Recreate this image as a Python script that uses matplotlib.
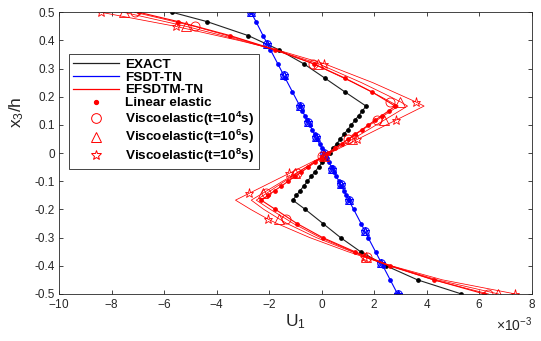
import numpy as np
import matplotlib
matplotlib.use('Agg')
import matplotlib.pyplot as plt
from matplotlib.lines import Line2D
from matplotlib.ticker import FuncFormatter, ScalarFormatter

plt.rcParams['font.family'] = ['Liberation Sans', 'DejaVu Sans']
plt.rcParams['mathtext.default'] = 'regular'
plt.rcParams['axes.unicode_minus'] = False

# thickness coordinate x3/h (three layers)
z = [0.5, 0.467, 0.417, 0.367, 0.317, 0.267, 0.217, 0.167,
     0.15, 0.133, 0.117, 0.1, 0.083, 0.067, 0.05, 0.033, 0.017, 0.0,
     -0.017, -0.033, -0.05, -0.067, -0.083, -0.1, -0.117, -0.133, -0.15, -0.167,
     -0.2, -0.25, -0.3, -0.35, -0.4, -0.45, -0.5]

# U1 values (x 1e-3)
u_exact = [-5.69, -4.37, -2.79, -1.63, -0.68, 0.11, 0.89, 1.69,
           1.55, 1.41, 1.27, 1.13, 0.99, 0.85, 0.71, 0.57, 0.43, 0.30,
           0.16, 0.02, -0.12, -0.26, -0.40, -0.54, -0.68, -0.82, -0.96, -1.10,
           -0.62, 0.05, 0.72, 1.48, 2.45, 3.65, 5.32]
u_fsdt = [-2.69, -2.50, -2.23, -1.95, -1.67, -1.39, -1.11, -0.83,
          -0.74, -0.64, -0.55, -0.46, -0.36, -0.27, -0.18, -0.08, 0.01, 0.10,
          0.19, 0.28, 0.38, 0.47, 0.56, 0.66, 0.75, 0.84, 0.94, 1.03,
          1.22, 1.50, 1.77, 2.05, 2.33, 2.61, 2.89]
u_efsdtm = [-6.96, -5.47, -3.48, -1.76, -0.31, 0.87, 1.92, 2.80,
            2.55, 2.29, 2.04, 1.78, 1.53, 1.27, 1.02, 0.76, 0.51, 0.25,
            0.00, -0.26, -0.51, -0.77, -1.02, -1.28, -1.53, -1.79, -2.04, -2.30,
            -1.76, -0.94, 0.04, 1.26, 2.62, 4.28, 6.19]

# FSDT-TN viscoelastic markers (all three times overlap)
z_fsdt_mk = [0.5, 0.389, 0.278, 0.167, 0.111, 0.056, 0.0, -0.056, -0.111, -0.167, -0.278, -0.389, -0.5]
u_fsdt_mk = [-2.69, -2.07, -1.45, -0.83, -0.52, -0.21, 0.10, 0.41, 0.72, 1.03, 1.65, 2.27, 2.89]

# EFSDTM-TN viscoelastic curves
z_ve = [0.5, 0.45, 0.4, 0.367, 0.318, 0.25, 0.2, 0.182, 0.167,
        -0.167, -0.2, -0.234, -0.25, -0.3, -0.35, -0.37, -0.4, -0.45, -0.5]
u_ve4 = [-7.12, -4.84, -2.94, -1.82, -0.33, 1.21, 2.26, 2.62, 2.92,
         -2.49, -1.95, -1.35, -1.08, -0.05, 1.20, 1.69, 2.55, 4.25, 6.35]
u_ve6 = [-7.54, -5.16, -3.06, -1.81, -0.14, 1.52, 2.62, 3.00, 3.27,
         -2.68, -2.20, -1.61, -1.32, -0.20, 1.15, 1.70, 2.60, 4.40, 6.73]
u_ve8 = [-8.40, -5.56, -3.16, -1.71, 0.08, 1.95, 3.15, 3.58, 3.90,
         -3.28, -2.70, -2.05, -1.70, -0.45, 1.00, 1.65, 2.65, 4.60, 7.37]

z_mk = [0.5, 0.45, 0.318, 0.182, 0.117, 0.049, -0.012, -0.072, -0.143, -0.234, -0.37, -0.5]
mk_ve4 = [-7.12, -4.84, -0.33, 2.62, 2.11, 1.00, 0.02, -0.95, -2.10, -1.35, 1.72, 6.35]
mk_ve6 = [-7.54, -5.16, -0.14, 3.00, 2.38, 1.17, 0.08, -1.00, -2.25, -1.61, 1.70, 6.73]
mk_ve8 = [-8.40, -5.56, 0.08, 3.58, 2.82, 1.36, 0.05, -1.24, -2.76, -2.05, 1.62, 7.37]

sc = 1e-3
fig = plt.figure(figsize=(5.41, 3.41), dpi=100)
ax = fig.add_axes([0.109, 0.138, 0.874, 0.826])

# exact solution
ax.plot(np.array(u_exact) * sc, z, '-', color='#222222', lw=0.8,
        marker='o', ms=2.4, mfc='k', mec='k')

# FSDT-TN
ax.plot(np.array(u_fsdt) * sc, z, '-', color='blue', lw=0.8,
        marker='o', ms=2.4, mfc='blue', mec='blue')
for m in ['o', '^', '*']:
    ax.plot(np.array(u_fsdt_mk) * sc, z_fsdt_mk, ls='none', marker=m, ms=5.5,
            mfc='none', mec='blue', mew=0.7)

# EFSDTM-TN
ax.plot(np.array(u_efsdtm) * sc, z, '-', color='red', lw=0.8,
        marker='o', ms=2.4, mfc='red', mec='red')
for u_line, u_mk, m in [(u_ve4, mk_ve4, 'o'), (u_ve6, mk_ve6, '^'), (u_ve8, mk_ve8, '*')]:
    ax.plot(np.array(u_line) * sc, z_ve, '-', color='red', lw=0.55)
    ax.plot(np.array(u_mk) * sc, z_mk, ls='none', marker=m, ms=6.5,
            mfc='none', mec='red', mew=0.6)

ax.set_xlim(-10e-3, 8e-3)
ax.set_ylim(-0.5, 0.5)
ax.set_xticks(np.arange(-10, 9, 2) * sc)
ax.set_yticks(np.round(np.arange(-0.5, 0.51, 0.1), 1))
xfmt = ScalarFormatter(useMathText=True)
xfmt.set_powerlimits((-3, -3))
ax.xaxis.set_major_formatter(xfmt)
ax.yaxis.set_major_formatter(FuncFormatter(lambda v, p: f'{round(v, 1) + 0:g}'))
ax.tick_params(direction='in', length=3, width=0.6, top=True, right=True,
               labelsize=8.5, colors='#262626', pad=3)
for s in ax.spines.values():
    s.set_linewidth(0.6)
    s.set_color('#262626')
ax.xaxis.get_offset_text().set_fontsize(10)
ax.xaxis.get_offset_text().set_color('#262626')

ax.set_xlabel('U$_1$', fontsize=12.5, color='#262626', labelpad=1)
ax.set_ylabel('x$_3$/h', fontsize=12.5, color='#262626')
ax.yaxis.set_label_coords(-0.07, 0.645)

handles = [
    Line2D([], [], color='#222222', lw=0.9),
    Line2D([], [], color='blue', lw=0.9),
    Line2D([], [], color='red', lw=0.9),
    Line2D([], [], ls='none', marker='o', ms=2.8, color='red'),
    Line2D([], [], ls='none', marker='o', ms=7, mfc='none', mec='red', mew=0.7),
    Line2D([], [], ls='none', marker='^', ms=7, mfc='none', mec='red', mew=0.7),
    Line2D([], [], ls='none', marker='*', ms=7, mfc='none', mec='red', mew=0.7),
]
labels = ['EXACT', 'FSDT-TN', 'EFSDTM-TN', 'Linear elastic',
          'Viscoelastic(t=10$^4$s)', 'Viscoelastic(t=10$^6$s)', 'Viscoelastic(t=10$^8$s)']
leg = ax.legend(handles, labels, loc='upper left', bbox_to_anchor=(0.021, 0.851),
                borderaxespad=0, fancybox=False, edgecolor='#262626', framealpha=1,
                prop={'weight': 'bold', 'size': 9.7}, handlelength=3.4,
                handletextpad=0.5, labelspacing=0.03, borderpad=0.3)
leg.get_frame().set_linewidth(0.6)

plt.savefig('out.png', dpi=100)
